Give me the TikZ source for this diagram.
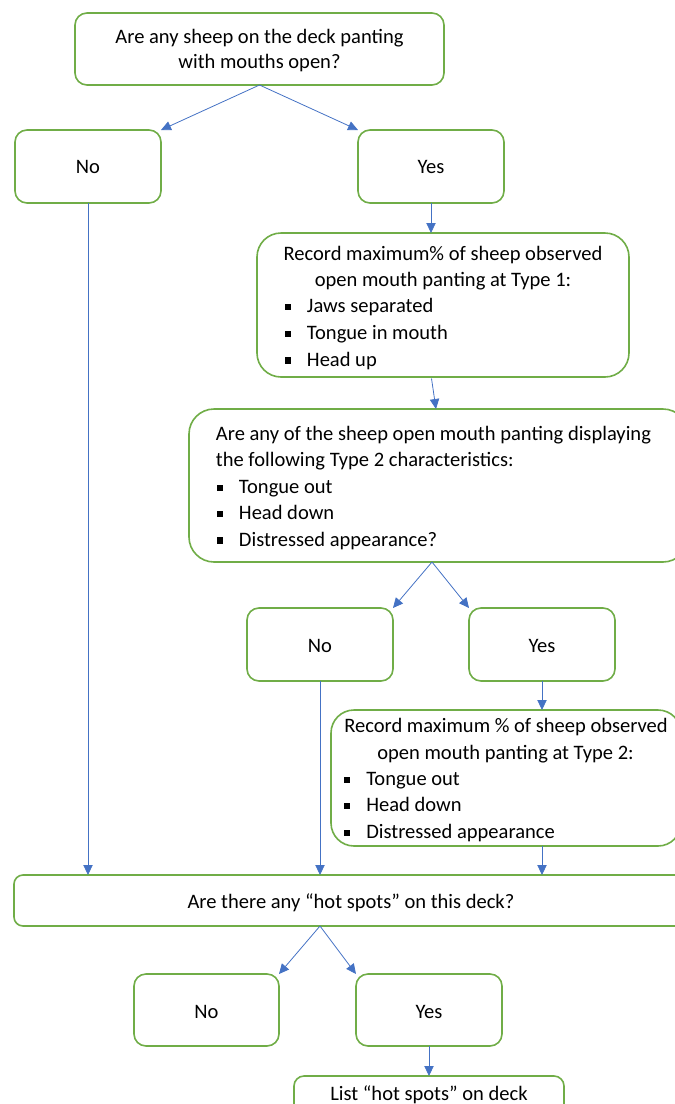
\documentclass[tikz,border=0pt]{standalone}
\usepackage{fontspec}
\setmainfont{Carlito}
\usetikzlibrary{arrows.meta,calc}

% one unit = one pixel of a 96 dpi page, y grows downwards
\tikzset{
  x=0.75pt, y=-0.75pt,
  box/.style={draw=boxgreen, line width=1.2pt, fill=white, inner sep=0pt, outer sep=0pt},
  arr/.style={draw=arrowblue, line width=0.6pt,
    -{Triangle[length=7.5pt, width=7pt, fill=arrowblue]}},
  txt/.style={font=\fontsize{15.4pt}{18pt}\selectfont, inner sep=0pt, anchor=base},
  ltxt/.style={txt, anchor=base west},
  bul/.style={fill=black, inner sep=0pt, minimum size=4.6pt, anchor=center},
}
\definecolor{boxgreen}{HTML}{70AD47}
\definecolor{arrowblue}{HTML}{4472C4}

% \pbox{name}{left}{top}{right}{bottom}{corner radius in px}
\newcommand\pbox[6]{%
  \node[box, rounded corners=#6*0.75pt,
        minimum width={(#4-#2)*0.75pt}, minimum height={(#5-#3)*0.75pt}]
    (#1) at ({(#2+#4)/2},{(#3+#5)/2}) {};}

\begin{document}
\begin{tikzpicture}
\useasboundingbox (0,0) rectangle (675,1104);
\clip (0,0) rectangle (675,1104);

% first question and its answers
\pbox{q1}{75}{13}{444}{85}{12}
\node[txt] (q1a) at (259.5,43.5) {Are any sheep on the deck panting};
\node[txt] (q1b) at (259.5,68.5) {with mouths open?};

\pbox{no1}{15}{130}{161}{203}{12}
\node[txt] (no1t) at (88,173.5) {No};
\pbox{yes1}{358}{130}{504}{203}{12}
\node[txt] (yes1t) at (431,173.5) {Yes};

\draw[arr] (q1.south) -- (no1.north east);
\draw[arr] (q1.south) -- (yes1.north west);

% type 1 record
\pbox{rec1}{257}{233}{629}{377}{24}
\node[txt] (r1a) at (443,260) {Record maximum\% of sheep observed};
\node[txt] (r1b) at (443,286.5) {open mouth panting at Type 1:};
\foreach \yy/\tt [count=\i] in {312.7/Jaws separated, 339.3/Tongue in mouth, 366/Head up}{
  \node[bul] (r1d\i) at (287.7,\yy-5.5) {};
  \node[ltxt] (r1t\i) at (306.7,\yy) {\tt};
}
\draw[arr] (yes1.south) -- (yes1.south |- rec1.north);

% second question
\pbox{q2}{189}{409}{688}{562}{25}
\node[ltxt] (q2a) at (215.7,440) {Are any of the sheep open mouth panting displaying};
\node[ltxt] (q2b) at (215.7,466.7) {the following Type 2 characteristics:};
\foreach \yy/\tt [count=\i] in {493.3/Tongue out, 519.3/Head down, 546/Distressed appearance?}{
  \node[bul] (q2d\i) at (220,\yy-5.5) {};
  \node[ltxt] (q2t\i) at (238.7,\yy) {\tt};
}
\draw[arr] ($(rec1.south)+(-11.5,1.5)$) -- ($(q2.north)+(-2.5,0)$);

\pbox{no2}{247}{608}{393}{681}{12}
\node[txt] (no2t) at (320,652) {No};
\pbox{yes2}{469}{608}{615}{681}{12}
\node[txt] (yes2t) at (542,652) {Yes};
\coordinate (q2s) at ($(q2.south)+(-6.5,0)$);
\draw[arr] (q2s) -- (no2.north east);
\draw[arr] (q2s) -- (yes2.north west);

% type 2 record
\pbox{rec2}{331}{710}{681}{846}{23}
\node[txt] (r2a) at (506,732.7) {Record maximum \% of sheep observed};
\node[txt] (r2b) at (505.5,759.3) {open mouth panting at Type 2:};
\foreach \yy/\tt [count=\i] in {785.3/Tongue out, 811.7/Head down, 838.3/Distressed appearance}{
  \node[bul] (r2d\i) at (347.3,\yy-5.5) {};
  \node[ltxt] (r2t\i) at (366,\yy) {\tt};
}
\draw[arr] (yes2.south) -- (yes2.south |- rec2.north);

% hot spots question
\pbox{hs}{14}{875}{688}{926}{9}
\node[txt] (hst) at (351,908.3) {Are there any “hot spots” on this deck?};
\draw[arr] (no1.south) -- (no1.south |- hs.north);
\draw[arr] (no2.south) -- (no2.south |- hs.north);
\draw[arr] (yes2.south |- rec2.south) -- (yes2.south |- hs.north);

\pbox{no3}{134}{974}{279}{1046}{12}
\node[txt] (no3t) at (206.5,1018.3) {No};
\pbox{yes3}{356}{974}{502}{1046}{12}
\node[txt] (yes3t) at (429,1018.3) {Yes};
\coordinate (hss) at (no2.south |- hs.south);
\draw[arr] (hss) -- (no3.north east);
\draw[arr] (hss) -- (yes3.north west);

% hot spots list
\pbox{list}{294}{1076}{564}{1136}{10}
\node[txt] (listt) at (429,1100) {List “hot spots” on deck};
\draw[arr] (yes3.south) -- (list.north);
\end{tikzpicture}
\end{document}
